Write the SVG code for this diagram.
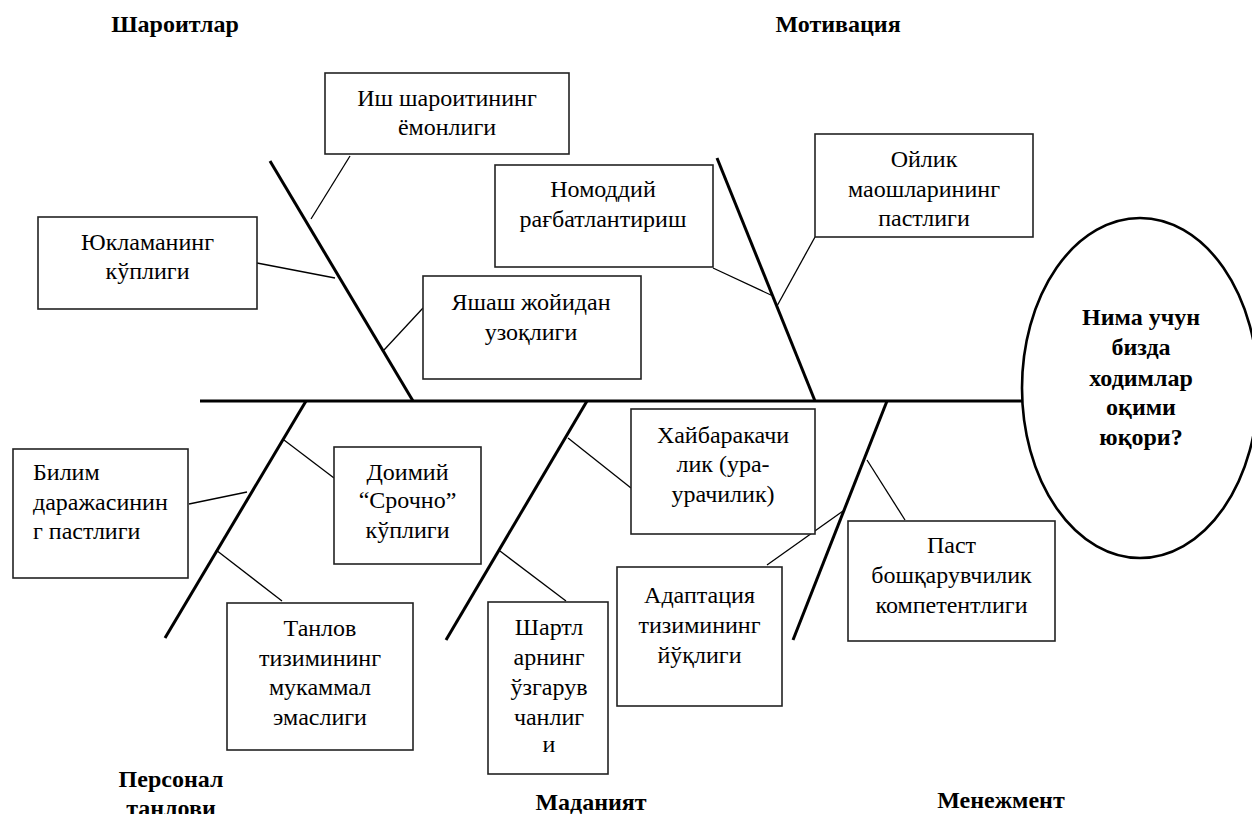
<svg xmlns="http://www.w3.org/2000/svg" width="1252" height="814" viewBox="0 0 1252 814">
<style>
.bg{fill:#fff}
.box{fill:#fff;stroke:#222;stroke-width:1.6}
.bone{stroke:#000;stroke-width:3;fill:none;stroke-linecap:butt}
.con{stroke:#000;stroke-width:1.3;fill:none}
.t{font-family:"Liberation Serif","Times New Roman",serif;font-size:24px;fill:#000;text-anchor:middle}
.tl{text-anchor:start}
.b{font-family:"Liberation Serif","Times New Roman",serif;font-size:24px;font-weight:bold;fill:#000;text-anchor:middle}
.head{fill:#fff;stroke:#000;stroke-width:2.6}
</style>
<rect class="bg" x="0" y="0" width="1252" height="814"/>

<g id="connectors">
  <line class="bone" x1="200" y1="401" x2="1023" y2="401"/>
  <line class="bone" x1="270" y1="161" x2="413" y2="401"/>
  <line class="bone" x1="717" y1="158" x2="815" y2="401"/>
  <line class="bone" x1="306" y1="401" x2="165" y2="638"/>
  <line class="bone" x1="587" y1="401" x2="446" y2="640"/>
  <line class="bone" x1="887" y1="401" x2="793" y2="640"/>
  <line class="con" x1="350" y1="156" x2="311" y2="219"/>
  <line class="con" x1="257" y1="263" x2="335" y2="278"/>
  <line class="con" x1="423" y1="308" x2="384" y2="350"/>
  <line class="con" x1="713" y1="268" x2="773" y2="296"/>
  <line class="con" x1="815" y1="237" x2="777" y2="306"/>
  <line class="con" x1="189" y1="504" x2="247" y2="492"/>
  <line class="con" x1="334" y1="478" x2="284" y2="440"/>
  <line class="con" x1="282" y1="601" x2="216" y2="550"/>
  <line class="con" x1="631" y1="488" x2="568" y2="438"/>
  <line class="con" x1="566" y1="601" x2="500" y2="551"/>
  <line class="con" x1="767" y1="565" x2="843" y2="511"/>
  <line class="con" x1="905" y1="520" x2="867" y2="460"/>
</g>

<g id="head">
  <ellipse class="head" cx="1140" cy="388" rx="118" ry="170"/>
  <text class="b" x="1141" y="325">Нима учун</text>
  <text class="b" x="1141" y="355">бизда</text>
  <text class="b" x="1141" y="386">ходимлар</text>
  <text class="b" x="1141" y="415">оқими</text>
  <text class="b" x="1141" y="445">юқори?</text>
</g>

<g id="cat-sharoitlar"><text class="b" x="175" y="32">Шароитлар</text></g>
<g id="cat-motivatsiya"><text class="b" x="838" y="32">Мотивация</text></g>
<g id="cat-personal"><text class="b" x="171" y="787">Персонал</text><text class="b" x="171" y="816">танлови</text></g>
<g id="cat-madaniyat"><text class="b" x="591" y="810">Маданият</text></g>
<g id="cat-menejment"><text class="b" x="1001" y="808">Менежмент</text></g>

<g id="n-ish">
  <rect class="box" x="325" y="73" width="244" height="81"/>
  <text class="t" x="447" y="106">Иш шароитининг</text>
  <text class="t" x="447" y="135">ёмонлиги</text>
</g>
<g id="n-yuklama">
  <rect class="box" x="38" y="217" width="219" height="92"/>
  <text class="t" x="147.5" y="250">Юкламанинг</text>
  <text class="t" x="147.5" y="279">кўплиги</text>
</g>
<g id="n-yashash">
  <rect class="box" x="423" y="276" width="218" height="103"/>
  <text class="t" x="531" y="310">Яшаш жойидан</text>
  <text class="t" x="531" y="340">узоқлиги</text>
</g>
<g id="n-nomoddiy">
  <rect class="box" x="495" y="165" width="218" height="102"/>
  <text class="t" x="603" y="197">Номоддий</text>
  <text class="t" x="603" y="227">рағбатлантириш</text>
</g>
<g id="n-oylik">
  <rect class="box" x="815" y="134" width="218" height="103"/>
  <text class="t" x="924" y="167">Ойлик</text>
  <text class="t" x="924" y="197">маошларининг</text>
  <text class="t" x="924" y="226">пастлиги</text>
</g>
<g id="n-bilim">
  <rect class="box" x="13" y="449" width="175" height="129"/>
  <text class="t tl" x="33" y="480">Билим</text>
  <text class="t tl" x="33" y="510">даражасинин</text>
  <text class="t tl" x="33" y="539">г пастлиги</text>
</g>
<g id="n-doimiy">
  <rect class="box" x="334" y="447" width="147" height="117"/>
  <text class="t" x="407.5" y="480">Доимий</text>
  <text class="t" x="407.5" y="508">“Срочно”</text>
  <text class="t" x="407.5" y="538">кўплиги</text>
</g>
<g id="n-tanlov">
  <rect class="box" x="227" y="603" width="186" height="147"/>
  <text class="t" x="320" y="636">Танлов</text>
  <text class="t" x="320" y="666">тизимининг</text>
  <text class="t" x="320" y="695">мукаммал</text>
  <text class="t" x="320" y="725">эмаслиги</text>
</g>
<g id="n-hayba">
  <rect class="box" x="631" y="409" width="184" height="125"/>
  <text class="t" x="723" y="443">Хайбаракачи</text>
  <text class="t" x="723" y="472">лик (ура-</text>
  <text class="t" x="723" y="502">урачилик)</text>
</g>
<g id="n-shart">
  <rect class="box" x="488" y="602" width="120" height="172"/>
  <text class="t" x="549" y="635">Шартл</text>
  <text class="t" x="549" y="665">арнинг</text>
  <text class="t" x="549" y="695">ўзгарув</text>
  <text class="t" x="549" y="725">чанлиг</text>
  <text class="t" x="549" y="752">и</text>
</g>
<g id="n-adapt">
  <rect class="box" x="617" y="567" width="165" height="139"/>
  <text class="t" x="699.5" y="603">Адаптация</text>
  <text class="t" x="699.5" y="633">тизимининг</text>
  <text class="t" x="699.5" y="663">йўқлиги</text>
</g>
<g id="n-past">
  <rect class="box" x="848" y="521" width="207" height="120"/>
  <text class="t" x="951.5" y="553">Паст</text>
  <text class="t" x="951.5" y="583">бошқарувчилик</text>
  <text class="t" x="951.5" y="613">компетентлиги</text>
</g>
</svg>
